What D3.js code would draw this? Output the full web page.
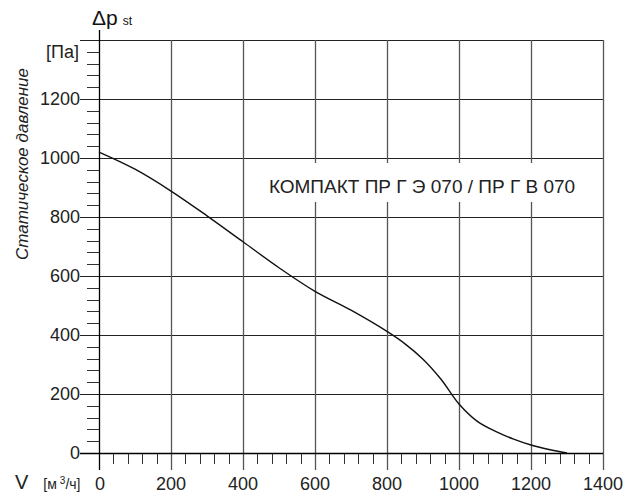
<!DOCTYPE html>
<html>
<head>
<meta charset="utf-8">
<script src="https://cdn.jsdelivr.net/npm/d3@7"></script>
<style>
  body { margin: 0; background: #fff; }
  svg { display: block; font-family: "Liberation Sans", Arial, sans-serif; }
</style>
</head>
<body>
<svg id="chart" width="628" height="498"></svg>
<script>
// fan curve
var flow = [0, 100, 200, 300, 400, 500, 600, 700, 800, 850, 900, 950, 1000, 1050, 1100, 1150, 1200, 1250, 1300];
var pressure = [1020, 962, 888, 804, 716, 628, 548, 484, 412, 370, 318, 250, 166, 108, 74, 48, 27, 12, 0];

var xTicks = [0, 200, 400, 600, 800, 1000, 1200, 1400];
var yTicks = [0, 200, 400, 600, 800, 1000, 1200];
var minorStep = 40;
var title = 'КОМПАКТ ПР Г Э 070 / ПР Г В 070';

(function() {
  var svg = d3.select('#chart');
  var pLeft = 99, pRight = 603, pTop = 40, pBottom = 453;

  var x = d3.scaleLinear().domain([0, 1400]).range([pLeft, pRight]);
  var y = d3.scaleLinear().domain([0, 1400]).range([pBottom, pTop]);

  function crisp(v) { return Math.round(v) + 0.5; }

  var grid = svg.append('g');
  // horizontal grid, top 1400 line included
  grid.selectAll('line.h')
    .data(yTicks.filter(function(d) { return d > 0; }).concat([1400]))
    .enter().append('line')
    .attr('x1', pLeft - 19).attr('x2', pRight)
    .attr('y1', function(d) { return crisp(y(d)); })
    .attr('y2', function(d) { return crisp(y(d)); })
    .attr('stroke', '#222').attr('stroke-width', 1);

  // vertical grid
  grid.selectAll('line.v')
    .data(xTicks.filter(function(d) { return d > 0; }))
    .enter().append('line')
    .attr('x1', function(d) { return crisp(x(d)); })
    .attr('x2', function(d) { return crisp(x(d)); })
    .attr('y1', pTop).attr('y2', pBottom + 17)
    .attr('stroke', '#555').attr('stroke-width', 1.3);

  // minor ticks
  var minors = d3.range(0, 1401, minorStep).filter(function(d) { return d % 200 !== 0; });
  svg.selectAll('line.ym')
    .data(minors)
    .enter().append('line')
    .attr('x1', pLeft - 12).attr('x2', pLeft)
    .attr('y1', function(d) { return crisp(y(d)); })
    .attr('y2', function(d) { return crisp(y(d)); })
    .attr('stroke', '#333').attr('stroke-width', 1);
  svg.selectAll('line.xm')
    .data(minors)
    .enter().append('line')
    .attr('x1', function(d) { return crisp(x(d)); })
    .attr('x2', function(d) { return crisp(x(d)); })
    .attr('y1', pBottom).attr('y2', pBottom + 11)
    .attr('stroke', '#333').attr('stroke-width', 1);

  // axes
  svg.append('line')
    .attr('x1', pLeft + 0.5).attr('x2', pLeft + 0.5)
    .attr('y1', 30).attr('y2', pBottom + 17)
    .attr('stroke', '#000').attr('stroke-width', 1.3);
  svg.append('line')
    .attr('x1', pLeft - 19).attr('x2', pRight)
    .attr('y1', pBottom + 0.5).attr('y2', pBottom + 0.5)
    .attr('stroke', '#000').attr('stroke-width', 1.3);

  // tick labels
  svg.selectAll('text.yl')
    .data(yTicks)
    .enter().append('text')
    .attr('x', pLeft - 19)
    .attr('y', function(d) { return y(d); })
    .attr('dy', '0.36em')
    .attr('text-anchor', 'end')
    .attr('font-size', 18)
    .attr('fill', '#222')
    .text(function(d) { return d; });

  svg.selectAll('text.xl')
    .data(xTicks)
    .enter().append('text')
    .attr('x', function(d) { return x(d) + (d === 0 ? 1 : 0); })
    .attr('y', 490)
    .attr('text-anchor', 'middle')
    .attr('font-size', 18)
    .attr('fill', '#222')
    .text(function(d) { return d; });

  // curve
  var line = d3.line()
    .x(function(d) { return x(d[0]); })
    .y(function(d) { return y(d[1]); })
    .curve(d3.curveCatmullRom.alpha(0.5));

  svg.append('path')
    .datum(d3.zip(flow, pressure))
    .attr('d', line)
    .attr('fill', 'none')
    .attr('stroke', '#111')
    .attr('stroke-width', 1.4);

  // title with white box
  svg.append('rect')
    .attr('x', 262).attr('y', 163)
    .attr('width', 320).attr('height', 39)
    .attr('fill', '#fff');
  svg.append('text')
    .attr('x', 422).attr('y', 193)
    .attr('text-anchor', 'middle')
    .attr('font-size', 19)
    .attr('fill', '#222')
    .text(title);

  // axis titles
  var dp = svg.append('text')
    .attr('x', 92).attr('y', 25)
    .attr('fill', '#111');
  dp.append('tspan').attr('font-size', 21).text('Δp');
  dp.append('tspan').attr('font-size', 12).attr('dx', 5).text('st');

  svg.append('text')
    .attr('x', 79).attr('y', y(1360))
    .attr('dy', '0.36em')
    .attr('text-anchor', 'end')
    .attr('font-size', 18)
    .attr('fill', '#222')
    .text('[Па]');

  svg.append('text')
    .attr('transform', 'translate(28,164) rotate(-90)')
    .attr('text-anchor', 'middle')
    .attr('font-size', 17)
    .attr('font-style', 'italic')
    .attr('fill', '#222')
    .text('Статическое давление');

  var vl = svg.append('text')
    .attr('x', 15).attr('y', 489)
    .attr('fill', '#222');
  vl.append('tspan').attr('font-size', 20).text('V');
  vl.append('tspan').attr('font-size', 14).attr('dx', 15).text('[м');
  vl.append('tspan').attr('font-size', 10).attr('dy', -5).attr('dx', 3).text('3');
  vl.append('tspan').attr('font-size', 14).attr('dy', 5).text('/ч]');
})();
</script>
</body>
</html>
